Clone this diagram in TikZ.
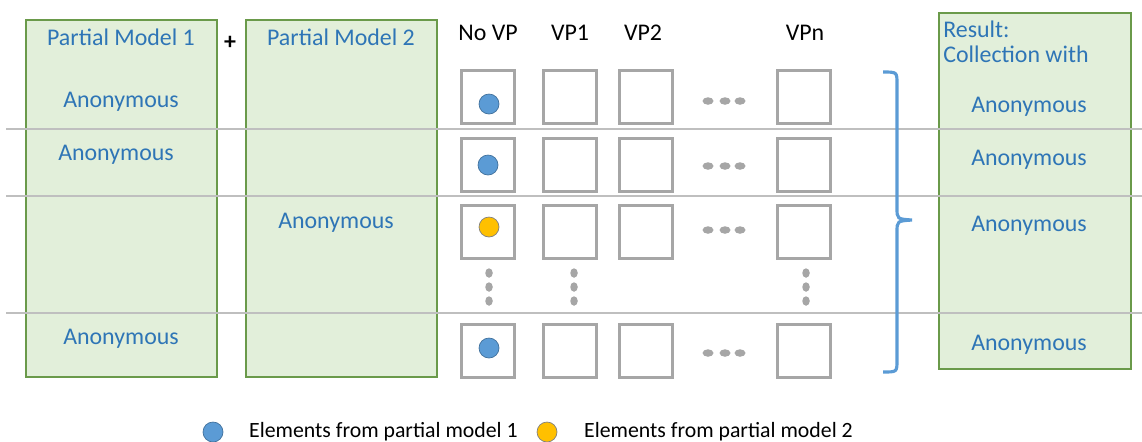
\documentclass[tikz,border=0pt]{standalone}
\usepackage{fontspec}
\setmainfont{Carlito}
\usetikzlibrary{positioning,shapes.geometric}

\definecolor{mgreen}{HTML}{E2EFDA}
\definecolor{mgreenline}{HTML}{6A9A4A}
\definecolor{mtext}{HTML}{2E75B6}
\definecolor{mblue}{HTML}{5B9BD5}
\definecolor{mbluedark}{HTML}{41719C}
\definecolor{morange}{HTML}{FFC000}
\definecolor{mgray}{HTML}{A6A6A6}
\definecolor{mline}{HTML}{BFBFBF}

\begin{document}
\begin{tikzpicture}[
  x=0.02cm, y=-0.02cm,
  font=\fontsize{13.6}{14.2}\selectfont,
  modelbox/.style={draw=mgreenline, fill=mgreen, line width=0.7pt},
  anon/.style={text=mtext},
  head/.style={text=black},
  legtext/.style={text=black, font=\fontsize{12.4}{14}\selectfont},
  vpcell/.style={draw=mgray, line width=1.4pt, minimum size=1.06cm, inner sep=0pt},
  elem/.style={circle, minimum size=0.4cm, inner sep=0pt, line width=0.4pt},
  elemA/.style={elem, fill=mblue, draw=mbluedark},
  elemB/.style={elem, fill=morange, draw=gray},
  hdot/.style={ellipse, fill=mgray, minimum width=0.22cm, minimum height=0.15cm, inner sep=0pt},
  vdot/.style={ellipse, fill=mgray, minimum width=0.15cm, minimum height=0.19cm, inner sep=0pt},
  sep/.style={draw=mline, line width=0.6pt},
  brace/.style={draw=mblue, line width=1.8pt}
]
\useasboundingbox (0,0) rectangle (1142,441);

% the two partial models and the result
\draw[modelbox] (26,20) rectangle (217,377);
\draw[modelbox] (246,20) rectangle (437,377);
\draw[modelbox] (939,13) rectangle (1131,369);

% separators between the rows
\foreach \y in {129,196,313} {
  \draw[sep] (6,\y) -- (1142,\y);
}

\node[anon] (pm1) at (121,37) {Partial Model 1};
\node[anon] (pm2) at (341,37) {Partial Model 2};
\node[font=\fontsize{13.6}{14.2}\selectfont\bfseries] (plus) at (230,43) {+};
\node[anon, anchor=west, align=left, inner sep=0pt] (res) at (943,42) {Result:\\Collection with};

\foreach \x/\y [count=\i] in {121/102,116/155,121/339} {
  \node[anon] (pmA\i) at (\x,\y) {Anonymous};
}
\node[anon] (pmB1) at (336,223) {Anonymous};
\foreach \y [count=\i] in {107,160,226,345} {
  \node[anon] (resA\i) at (1029,\y) {Anonymous};
}

% variation point columns
\foreach \t/\x [count=\i] in {No VP/488,VP1/570,VP2/643,VPn/805} {
  \node[head] (h\i) at (\x,33) {\t};
}

\foreach \y/\d [count=\r] in {97/101,165/166,232/230,351/353} {
  \foreach \x [count=\c] in {488,570,646,804} {
    \node[vpcell] (sq-\r-\c) at (\x,\y) {};
  }
  \foreach \x [count=\k] in {708,725,740} {
    \node[hdot] (hd-\r-\k) at (\x,\d) {};
  }
}

\foreach \x [count=\c] in {489,574,806} {
  \foreach \y [count=\k] in {273,287,301} {
    \node[vdot] (vd-\c-\k) at (\x,\y) {};
  }
}

% elements
\node[elemA] (e1) at (489,104) {};
\node[elemA] (e2) at (488,165) {};
\node[elemB] (e3) at (489,227) {};
\node[elemA] (e4) at (489,348) {};

% brace
\draw[brace] (883,72) .. controls (897,72) .. (897,84) -- (897,208)
  .. controls (897,219) .. (912,220)
  .. controls (897,221) .. (897,232) -- (897,360)
  .. controls (897,372) .. (883,372);

% legend
\node[elemA] (legA) at (213,432) {};
\node[legtext, anchor=west] (legAt) at (243,432) {Elements from partial model 1};
\node[elemB] (legB) at (547,432) {};
\node[legtext, anchor=west] (legBt) at (578,432) {Elements from partial model 2};
\end{tikzpicture}
\end{document}
